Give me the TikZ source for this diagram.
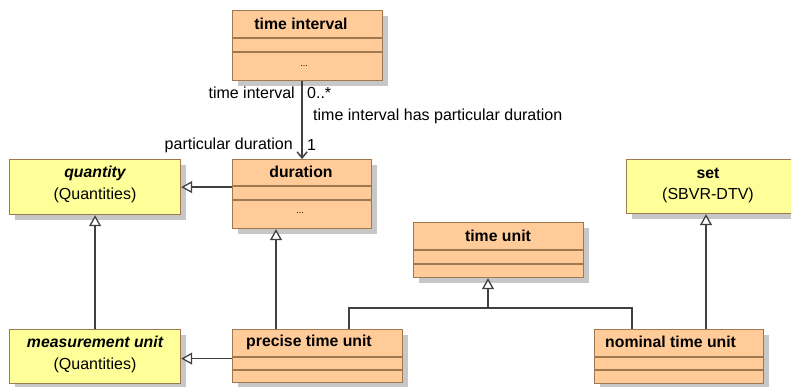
\documentclass[tikz,border=0pt]{standalone}
\usepackage{fontspec}
\setmainfont{Liberation Sans}
\usetikzlibrary{arrows.meta,shadows}
\definecolor{orfill}{RGB}{255,204,153}
\definecolor{yefill}{RGB}{255,255,153}
\definecolor{bord}{RGB}{160,120,80}
\definecolor{linec}{RGB}{64,64,64}
\tikzset{
  cls/.style={draw=bord,line width=1.2pt,rectangle,inner sep=0pt,anchor=north west,
    drop shadow={shadow xshift=5pt,shadow yshift=-5pt,fill=black!22,opacity=1}},
  ocls/.style={cls,fill=orfill},
  ycls/.style={cls,fill=yefill},
  divl/.style={draw=bord,line width=1.2pt},
  txt/.style={font=\fontsize{16}{19}\selectfont,inner sep=0pt},
  ttl/.style={txt,font=\fontsize{15.8}{19}\selectfont\bfseries},
  ttli/.style={txt,font=\fontsize{15.8}{19}\selectfont\bfseries\itshape},
  dots/.style={font=\fontsize{9}{10}\selectfont,inner sep=0pt},
  gen/.style={draw=linec,line width=1.5pt,-{Triangle[open,length=11pt,width=12pt,fill=white,line width=1.3pt]}},
  plain/.style={draw=linec,line width=1.5pt},
  assoc/.style={draw=linec,line width=1.5pt,-{Straight Barb[length=6pt,width=10pt]}},
}
\begin{document}
\begin{tikzpicture}[x=1pt,y=-1pt]
\useasboundingbox (0,0) rectangle (791,386);
% boxes
\node[ocls,minimum width=150pt,minimum height=70pt] (ti) at (232,10) {};
\node[ocls,minimum width=139pt,minimum height=69pt] (dur) at (232,159) {};
\node[ycls,minimum width=171pt,minimum height=55pt] (q) at (9,159) {};
\node[ycls,minimum width=171pt,minimum height=54pt] (mu) at (9,329) {};
\node[ocls,minimum width=170pt,minimum height=53pt] (ptu) at (232,329) {};
\node[ocls,minimum width=170pt,minimum height=55pt] (tu) at (413,222) {};
\node[ycls,minimum width=168pt,minimum height=54pt] (set) at (626,159) {};
\node[ocls,minimum width=169pt,minimum height=54pt] (ntu) at (594,329) {};
% compartments
\draw[divl] (ti.west |- 0,38) -- (ti.east |- 0,38);
\draw[divl] (ti.west |- 0,52) -- (ti.east |- 0,52);
\draw[divl] (dur.west |- 0,186) -- (dur.east |- 0,186);
\draw[divl] (dur.west |- 0,200) -- (dur.east |- 0,200);
\draw[divl] (ptu.west |- 0,357) -- (ptu.east |- 0,357);
\draw[divl] (ptu.west |- 0,370) -- (ptu.east |- 0,370);
\draw[divl] (tu.west |- 0,250) -- (tu.east |- 0,250);
\draw[divl] (tu.west |- 0,264) -- (tu.east |- 0,264);
\draw[divl] (ntu.west |- 0,357) -- (ntu.east |- 0,357);
\draw[divl] (ntu.west |- 0,370) -- (ntu.east |- 0,370);
% texts
\node[ttl] (ti-t) at (301,24) {time interval};
\node[dots] (ti-d) at (304,66) {...};
\node[ttl] (dur-t) at (301,172) {duration};
\node[dots] (dur-d) at (300,213) {...};
\node[ttli] (q-t) at (95,173) {quantity};
\node[txt] (q-s) at (95,195) {(Quantities)};
\node[ttli] (mu-t) at (95,342) {measurement unit};
\node[txt] (mu-s) at (95,365) {(Quantities)};
\node[ttl,anchor=west] (ptu-t) at (246,342) {precise time unit};
\node[ttl] (tu-t) at (498,236) {time unit};
\node[ttl] (set-t) at (708,173) {set};
\node[txt] (set-s) at (708,195) {(SBVR-DTV)};
\node[ttl,anchor=west] (ntu-t) at (605,342) {nominal time unit};
% connectors
\draw[assoc] (ti.south -| dur.north) -- (dur.north);
\node[txt,anchor=east] (l1) at (295,93) {time interval};
\node[txt,anchor=west] (l2) at (307,93) {0..*};
\node[txt,anchor=west] (l3) at (313,116) {time interval has particular duration};
\node[txt,anchor=east] (l4) at (293,145) {particular duration};
\node[txt,anchor=west] (l5) at (307,145) {1};
\draw[gen] (dur.west |- q.east) -- (q.east);
\draw[gen] (mu.north) -- (q.south);
\draw[gen] ([yshift=-2.5pt]ptu.west) -- ([yshift=-2pt]mu.east);
\draw[gen] ([xshift=44pt]ptu.north west) -- ([xshift=44pt]dur.south west);
\coordinate (j) at (488,308);
\draw[plain] ([xshift=117pt]ptu.north west) |- (j) -| ([xshift=38pt]ntu.north west);
\draw[gen] (j) -- ([xshift=75pt]tu.south west);
\draw[gen] ([xshift=112pt]ntu.north west) -- ([xshift=80pt]set.south west);
\end{tikzpicture}
\end{document}
